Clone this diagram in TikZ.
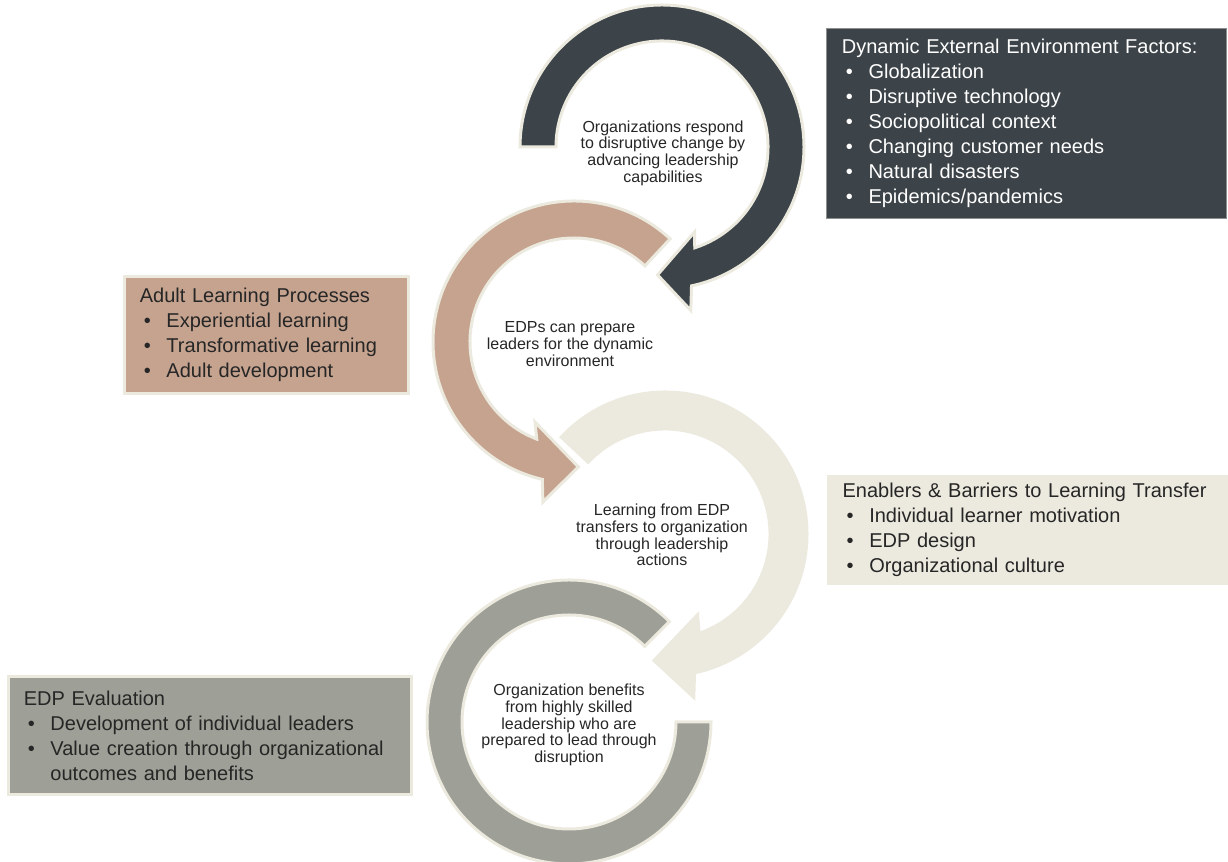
\documentclass[tikz,border=0pt]{standalone}
\usepackage{fontspec}
\setmainfont{Liberation Sans}
\usetikzlibrary{positioning}
\definecolor{ringDark}{HTML}{3D4449}
\definecolor{ringRose}{HTML}{C6A38F}
\definecolor{ringCream}{HTML}{ECEADF}
\definecolor{ringGrey}{HTML}{9E9F96}
\definecolor{inkDark}{HTML}{262626}
\newcommand{\bul}{\makebox[20pt][l]{\hspace{3pt}\textbullet}}

\begin{document}
\begin{tikzpicture}[x=0.75pt, y=0.75pt, ring/.style={draw=ringCream, line width=2.25pt, line join=miter}, ctxt/.style={align=center, font=\fontsize{12}{12.5}\selectfont, text=inkDark, inner sep=0pt}, box/.style={anchor=north west, align=left, inner xsep=11.5pt, inner ysep=0pt, font=\fontsize{15}{18.75}\selectfont, text=inkDark}]
\useasboundingbox (0,0) rectangle (1228,862);
\filldraw[ring, fill=ringDark, shift={(662,715)}] (180:142) arc[start angle=180, end angle=-78, radius=142] -- (-80:166) -- (-92:128) -- (-69:91) -- (-72:106) arc[start angle=-72, end angle=180, radius=106] -- cycle;
\filldraw[ring, fill=ringRose, shift={(574,520)}] (47:141) arc[start angle=47, end angle=257, radius=141] -- (259:163) -- (272:125) -- (244:89) -- (249:104) arc[start angle=249, end angle=47, radius=104] -- cycle;
\filldraw[ring, fill=ringCream, shift={(665,328)}] (137:142) arc[start angle=137, end angle=-78, radius=142] -- (-80:166) -- (-95:127) -- (-68:87) -- (-71:105) arc[start angle=-71, end angle=137, radius=105] -- cycle;
\filldraw[ring, fill=ringGrey, shift={(569,140)}] (45:142) arc[start angle=45, end angle=360, radius=142] -- (0:107) arc[start angle=360, end angle=45, radius=107] -- cycle;
\node[ctxt] (respond) at (663,709) {Organizations respond\\to disruptive change by\\advancing leadership\\capabilities};
\node[ctxt] (prepare) at (570,518) {EDPs can prepare\\leaders for the dynamic\\environment};
\node[ctxt] (transfer) at (662,327) {Learning from EDP\\transfers to organization\\through leadership\\actions};
\node[ctxt] (benefit) at (569,137) {Organization benefits\\from highly skilled\\leadership who are\\prepared to lead through\\disruption};
\node[box, fill=ringDark, draw=ringCream!45!ringDark, line width=0.75pt, text=white, minimum width=300pt, text width=277pt, minimum height=142.5pt] (extbox) at (826,834) {Dynamic External Environment Factors:\\\bul Globalization\\\bul Disruptive technology\\\bul Sociopolitical context\\\bul Changing customer needs\\\bul Natural disasters\\\bul Epidemics/pandemics};
\node[box, fill=ringRose, draw=ringCream, line width=2.25pt, minimum width=213pt, text width=190pt, minimum height=87.75pt] (adultbox) at (123,587) {Adult Learning Processes\\\bul Experiential learning\\\bul Transformative learning\\\bul Adult development};
\node[box, fill=ringCream, minimum width=300.75pt, text width=277.75pt, minimum height=82.5pt] (transferbox) at (827,387) {Enablers \& Barriers to Learning Transfer\\\bul Individual learner motivation\\\bul EDP design\\\bul Organizational culture};
\node[box, fill=ringGrey, draw=ringCream, line width=2.25pt, minimum width=302.25pt, text width=279.25pt, minimum height=88.5pt] (evalbox) at (7,187) {EDP Evaluation\\\bul Development of individual leaders\\\bul Value creation through organizational\\\hspace*{20pt}outcomes and benefits};
\end{tikzpicture}
\end{document}
